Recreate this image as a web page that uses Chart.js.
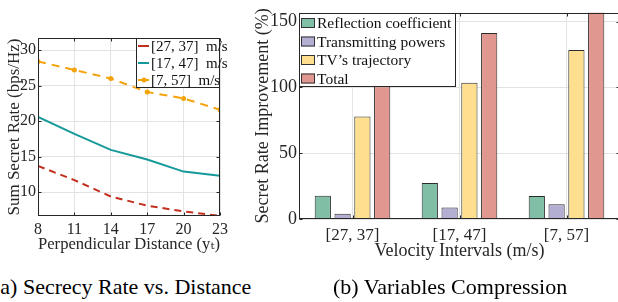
<!DOCTYPE html>
<html>
<head>
<meta charset="utf-8">
<script src="https://cdn.jsdelivr.net/npm/chart.js@4.4.1/dist/chart.umd.min.js"></script>
<style>
    html, body { margin: 0; padding: 0; background: #fff; }
    body { width: 618px; height: 302px; position: relative; overflow: hidden; }
    #rate-chart { position: absolute; left: 0; top: 0; }
    #bar-chart { position: absolute; left: 225px; top: 0; }
    .caption {
        position: absolute; top: 276px; line-height: 22px;
        font-family: "Liberation Serif", serif; font-size: 22px; color: #000; white-space: nowrap;
    }
</style>
</head>
<body>
<canvas id="rate-chart" width="232" height="256"></canvas>
<canvas id="bar-chart" width="400" height="262"></canvas>
<div class="caption" style="left:-7px">(a) Secrecy Rate vs. Distance</div>
<div class="caption" style="left:333px">(b) Variables Compression</div>

<script>
// (a) sum secret rate vs perpendicular distance
var distance = [8, 11, 14, 17, 20, 23];
var rate_27_37 = [13.7, 11.7, 9.4, 8.1, 7.3, 6.65];
var rate_17_47 = [20.6, 18.2, 15.95, 14.6, 12.9, 12.3];
var rate_7_57 = [28.4, 27.2, 26.0, 24.1, 23.2, 21.6];
var rateTicks = [10, 15, 20, 25, 30];

// (b) improvement per velocity interval
var intervals = ["[27, 37]", "[17, 47]", "[7, 57]"];
var reflection = [17.7, 27.4, 17.5];
var transmitting = [3.9, 8.7, 11.2];
var trajectory = [78, 103.7, 128.5];
var total = [101, 141.4, 160];
var improvementTicks = [0, 50, 100, 150];

Chart.defaults.font.family = '"Liberation Serif", "DejaVu Serif", serif';
Chart.defaults.color = "#262626";

var gridColor = "#e3e3e3";
var axisColor = "#262626";

function points(xs, ys) {
    return xs.map(function (x, i) { return { x: x, y: ys[i] }; });
}

// box around the plot, with small inward ticks like matlab
var framePlugin = {
    id: "frame",
    afterDatasetsDraw: function (chart) {
        var a = chart.chartArea, ctx = chart.ctx;
        var l = Math.round(a.left) + 0.5, r = Math.round(a.right) - 0.5;
        var t = Math.round(a.top) + 0.5, b = Math.round(a.bottom) - 0.5;
        ctx.save();
        ctx.strokeStyle = axisColor;
        ctx.lineWidth = 1;
        ctx.strokeRect(l, t, r - l, b - t);
        ctx.beginPath();
        chart.scales.y.ticks.forEach(function (tk) {
            var y = Math.round(chart.scales.y.getPixelForValue(tk.value)) + 0.5;
            ctx.moveTo(l, y); ctx.lineTo(l + 3, y);
            ctx.moveTo(r, y); ctx.lineTo(r - 3, y);
        });
        chart.scales.x.ticks.forEach(function (tk, i) {
            var v = chart.scales.x.type === "category" ? i : tk.value;
            var x = Math.round(chart.scales.x.getPixelForValue(v)) + 0.5;
            ctx.moveTo(x, b); ctx.lineTo(x, b - 3);
            ctx.moveTo(x, t); ctx.lineTo(x, t + 3);
        });
        ctx.stroke();
        ctx.restore();
    }
};

// legend drawn inside the plot area
var boxLegendPlugin = {
    id: "boxLegend",
    afterDraw: function (chart, args, opts) {
        var a = chart.chartArea, ctx = chart.ctx;
        var left = opts.alignRight ? Math.round(a.right) - opts.width : Math.round(a.left);
        var top = Math.round(a.top);
        ctx.save();
        ctx.fillStyle = "#fff";
        ctx.fillRect(left, top, opts.width, opts.height);
        ctx.strokeStyle = axisColor;
        ctx.lineWidth = 1;
        ctx.strokeRect(left + 0.5, top + 0.5, opts.width - 1, opts.height - 1);
        ctx.font = opts.fontSize + 'px "Liberation Serif", serif';
        ctx.textBaseline = "middle";
        chart.data.datasets.forEach(function (ds, i) {
            var y = top + opts.firstRow + i * opts.rowHeight;
            if (opts.kind === "line") {
                ctx.strokeStyle = ds.borderColor;
                ctx.lineWidth = 2;
                ctx.setLineDash([]);
                ctx.beginPath();
                ctx.moveTo(left + 2, y);
                ctx.lineTo(left + 13, y);
                ctx.stroke();
                if (ds.pointRadius > 0) {
                    ctx.fillStyle = ds.borderColor;
                    ctx.beginPath();
                    ctx.arc(left + 8, y, ds.pointRadius, 0, Math.PI * 2);
                    ctx.fill();
                }
                ctx.fillStyle = "#111";
                ctx.fillText(ds.label, left + 15, y + 1);
            } else {
                ctx.fillStyle = ds.backgroundColor;
                ctx.fillRect(left + 2, y - 5, 14, 10);
                ctx.strokeStyle = "#333";
                ctx.lineWidth = 1;
                ctx.strokeRect(left + 2.5, y - 4.5, 13, 9);
                ctx.fillStyle = "#111";
                ctx.fillText(ds.label, left + 18, y + 1);
            }
        });
        ctx.restore();
    }
};

// Sum secret rate
new Chart(document.getElementById("rate-chart"), {
    type: "line",
    data: {
        datasets: [
            {
                label: "[27, 37]  m/s",
                data: points(distance, rate_27_37),
                borderColor: "#c3301f",
                borderWidth: 2,
                borderDash: [7, 5],
                pointRadius: 0,
            },
            {
                label: "[17, 47]  m/s",
                data: points(distance, rate_17_47),
                borderColor: "#16999a",
                borderWidth: 2,
                pointRadius: 0,
            },
            {
                label: "[7, 57]  m/s",
                data: points(distance, rate_7_57),
                borderColor: "#f4a30c",
                backgroundColor: "#f4a30c",
                borderWidth: 2,
                borderDash: [8, 6],
                pointRadius: 2.5,
                pointBorderWidth: 0,
            },
        ],
    },
    options: {
        responsive: false,
        animation: false,
        layout: { padding: { top: 38, right: 12 } },
        plugins: {
            legend: { display: false },
            tooltip: { enabled: false },
            boxLegend: { kind: "line", alignRight: true, width: 84, height: 50, firstRow: 8, rowHeight: 17, fontSize: 15 },
        },
        scales: {
            x: {
                type: "linear",
                min: 8,
                max: 23,
                afterBuildTicks: function (s) { s.ticks = distance.map(function (v) { return { value: v }; }); },
                afterFit: function (s) { s.height = 40; },
                grid: { color: gridColor, drawTicks: false },
                border: { display: false },
                ticks: { padding: 4, font: { size: 16 } },
                title: { display: true, text: "Perpendicular Distance (yₜ)", font: { size: 17 }, padding: { top: 0, bottom: 1 } },
            },
            y: {
                min: 6.65,
                max: 31.7,
                afterBuildTicks: function (s) { s.ticks = rateTicks.map(function (v) { return { value: v }; }); },
                afterFit: function (s) { s.width = 38; },
                grid: { color: gridColor, drawTicks: false },
                border: { display: false },
                ticks: { padding: 2, font: { size: 16 } },
                title: { display: true, text: "Sum Secret Rate (bps/Hz)", font: { size: 17 }, padding: { top: 4, bottom: 0 } },
            },
        },
    },
    plugins: [framePlugin, boxLegendPlugin],
});

// Secret rate improvement
new Chart(document.getElementById("bar-chart"), {
    type: "bar",
    data: {
        labels: intervals,
        datasets: [
            { label: "Reflection coefficient", data: reflection, backgroundColor: "#80bea5" },
            { label: "Transmitting powers", data: transmitting, backgroundColor: "#b3afd3" },
            { label: "TV\u2019s trajectory", data: trajectory, backgroundColor: "#fddf8f" },
            { label: "Total", data: total, backgroundColor: "#e0978f" },
        ].map(function (ds) {
            ds.borderColor = "#2b2b2b";
            ds.borderWidth = 1;
            ds.categoryPercentage = 0.74;
            ds.barPercentage = 0.82;
            return ds;
        }),
    },
    options: {
        responsive: false,
        animation: false,
        layout: { padding: { top: 4, right: 5 } },
        plugins: {
            legend: { display: false },
            tooltip: { enabled: false },
            boxLegend: { kind: "box", alignRight: false, width: 157, height: 74, firstRow: 10, rowHeight: 18.5, fontSize: 15.5 },
        },
        scales: {
            x: {
                afterFit: function (s) { s.height = 43; },
                grid: { color: gridColor, drawTicks: false, offset: false },
                border: { display: false },
                ticks: { padding: 6, font: { size: 17 } },
                title: { display: true, text: "Velocity Intervals (m/s)", font: { size: 18 }, padding: { top: 0, bottom: 0 } },
            },
            y: {
                min: 0,
                max: 156.8,
                afterBuildTicks: function (s) { s.ticks = improvementTicks.map(function (v) { return { value: v }; }); },
                afterFit: function (s) { s.width = 74; },
                grid: { color: gridColor, drawTicks: false },
                border: { display: false },
                ticks: { padding: 2, font: { size: 18 } },
                title: { display: true, text: "Secret Rate Improvement (%)", font: { size: 18 }, padding: { top: 27, bottom: 0 } },
            },
        },
    },
    plugins: [framePlugin, boxLegendPlugin],
});
</script>
</body>
</html>
